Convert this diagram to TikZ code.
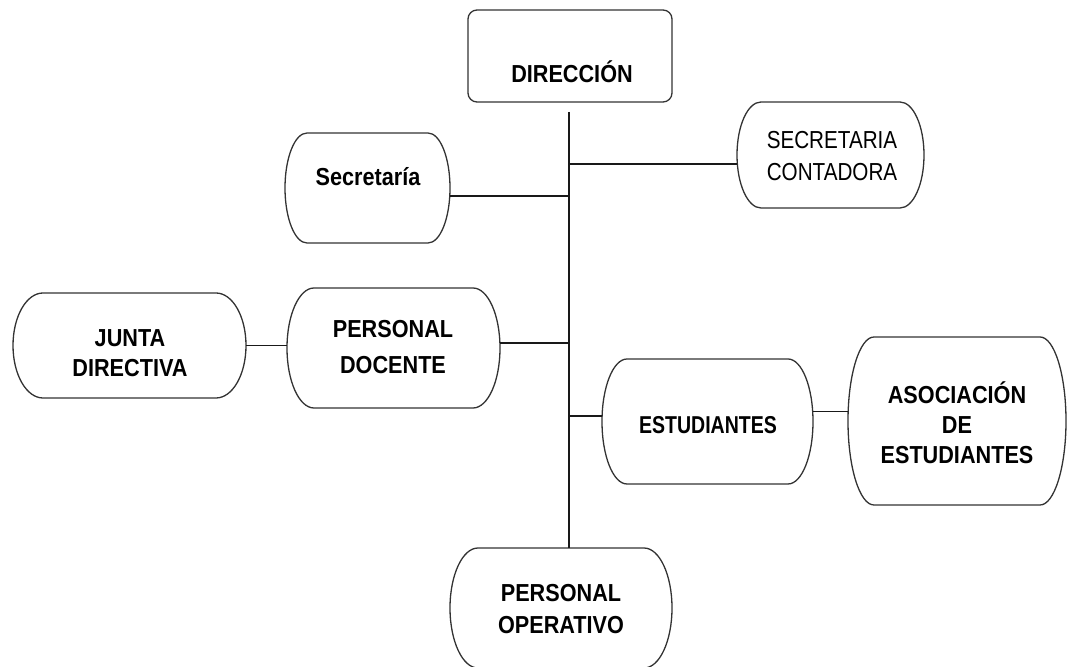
\documentclass[tikz,border=0pt]{standalone}
\usepackage{fontspec}
\setmainfont{Liberation Sans}[FakeStretch=0.88]
\newfontfamily\narrowfont{Liberation Sans}[FakeStretch=0.8]
\newfontfamily\scfont{Liberation Sans}[FakeStretch=0.84]
\usetikzlibrary{calc}
\tikzset{
  boxline/.style={draw=black!80, line width=1.3pt},
  link/.style={draw=black!90, line width=1.3pt},
  frame/.style={draw=none, inner sep=0pt, outer sep=0pt},
  txt/.style={font=\fontsize{24.6}{30}\selectfont\bfseries, align=center, inner sep=0pt, text=black}
}
\newcommand\pillbox[2]{%
  \draw[boxline] let \p1=(#1.north east), \p2=(#1.south west), \n1={(\y1-\y2)/2} in
    ({\x2+#2},\y1) -- ({\x1-#2},\y1)
    arc[start angle=90, end angle=-90, x radius=#2, y radius=\n1]
    -- ({\x2+#2},\y2)
    arc[start angle=270, end angle=90, x radius=#2, y radius=\n1] -- cycle;}
\begin{document}
\begin{tikzpicture}[x=1pt,y=1pt]
\useasboundingbox (0,0) rectangle (1069,667);
\clip (0,0) rectangle (1069,667);
% frames
\node[frame, minimum width=204pt, minimum height=92pt] (dir) at (570,611) {};
\node[frame, minimum width=165pt, minimum height=110pt] (sec) at (367.5,479) {};
\node[frame, minimum width=187pt, minimum height=106pt] (sc) at (830.5,512) {};
\node[frame, minimum width=233pt, minimum height=105pt] (jd) at (129.5,321.5) {};
\node[frame, minimum width=213pt, minimum height=120pt] (pd) at (393.5,319) {};
\node[frame, minimum width=211pt, minimum height=125pt] (est) at (707.5,245.5) {};
\node[frame, minimum width=218pt, minimum height=168pt] (asoc) at (957,246) {};
\node[frame, minimum width=222pt, minimum height=120pt] (po) at (561,59) {};
\coordinate (trunktop) at (569,555);
% outlines
\draw[boxline, rounded corners=9pt] (dir.south west) rectangle (dir.north east);
\pillbox{sec}{22pt}
\pillbox{sc}{24pt}
\pillbox{jd}{30pt}
\pillbox{pd}{27pt}
\pillbox{est}{25pt}
\pillbox{asoc}{26pt}
\pillbox{po}{28pt}
% texts
\node[txt] (dirt) at (572,595) {DIRECCIÓN};
\node[txt] (sect) at (368,490) {Secretaría};
\node[txt, font=\fontsize{24.6}{32}\selectfont\scfont] (sct) at (832,511) {SECRETARIA\\CONTADORA};
\node[txt] (jdt) at (130,314) {JUNTA\\DIRECTIVA};
\node[txt, font=\fontsize{24.6}{36}\selectfont\bfseries] (pdt) at (393,320) {PERSONAL\\DOCENTE};
\node[txt, font=\fontsize{24.4}{30}\selectfont\bfseries\narrowfont] (estt) at (708,242) {ESTUDIANTES};
\node[txt] (asoct) at (957,244) {ASOCIACIÓN\\DE\\ESTUDIANTES};
\node[txt, font=\fontsize{24.6}{32}\selectfont\bfseries] (pot) at (561,58) {PERSONAL\\OPERATIVO};
% connectors
\draw[link] (trunktop) -- (trunktop |- po.north);
\draw[link] ([yshift=-8pt]sec.east) -- ([yshift=-8pt]sec.east -| trunktop);
\draw[link] ([yshift=-9pt]sc.west) -- ([yshift=-9pt]sc.west -| trunktop);
\draw[link] ([yshift=5pt]pd.east) -- ([yshift=5pt]pd.east -| trunktop);
\draw[link] (jd.east) -- (jd.east -| pd.west);
\draw[link] ([yshift=5.5pt]est.west) -- ([yshift=5.5pt]est.west -| trunktop);
\draw[link] ([yshift=10pt]est.east) -- ([yshift=10pt]est.east -| asoc.west);
\end{tikzpicture}
\end{document}
